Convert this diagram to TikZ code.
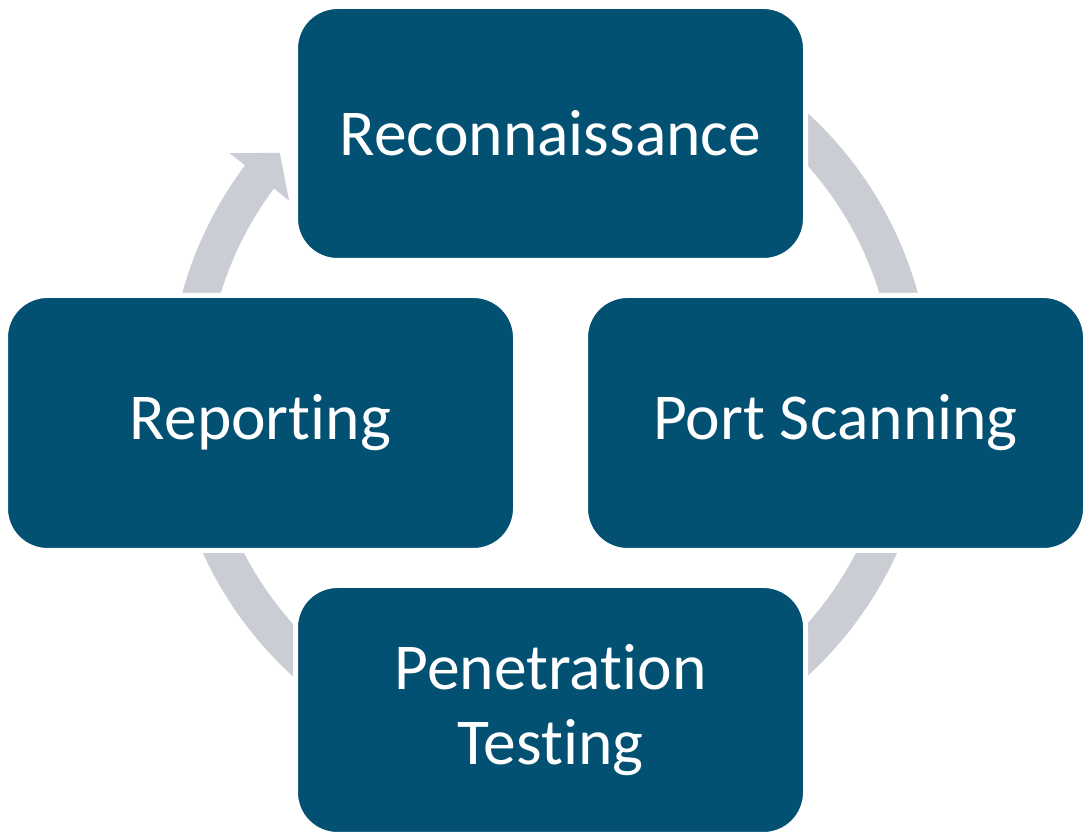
\documentclass[tikz,border=0pt]{standalone}
\usepackage{fontspec}
\setmainfont{Carlito}[RawFeature=-liga]
\usetikzlibrary{calc}
\definecolor{boxblue}{RGB}{2,80,114}
\definecolor{ringgray}{RGB}{202,206,212}
\tikzset{
  stage/.style={rectangle, rounded corners=42pt, fill=boxblue, draw=white,
    line width=5pt, text=white, align=center, inner sep=0pt,
    font=\fontsize{65.5}{75}\selectfont},
  ring/.style={draw=ringgray, line width=37pt},
}
\begin{document}
\begin{tikzpicture}[x=1pt,y=1pt]
\useasboundingbox (0,0) rectangle (1084,834);
% centre of the cycle ring
\coordinate (C) at (550,439.5);
% circular arrow running clockwise behind the stages
\draw[ring] ($(C)+(100:363)$) arc[start angle=100, end angle=-217.6, radius=363];
\fill[ringgray] ($(C)+(143:401)$) -- ($(C)+(138.2:362.5)$) -- ($(C)+(143.4:325)$) -- cycle;
% the four stages
\node[stage, minimum width=510pt, minimum height=254pt] (recon) at (550.5,700.5) {Reconnaissance};
\node[stage, minimum width=500pt, minimum height=255pt] (scan) at (835.5,411) {Port Scanning};
\node[stage, minimum width=510pt, minimum height=255pt] (report) at (260.5,411) {Reporting};
\node[stage, minimum width=510pt, minimum height=249pt] (pentest) at (550.5,124) {Penetration\\Testing};
\end{tikzpicture}
\end{document}
